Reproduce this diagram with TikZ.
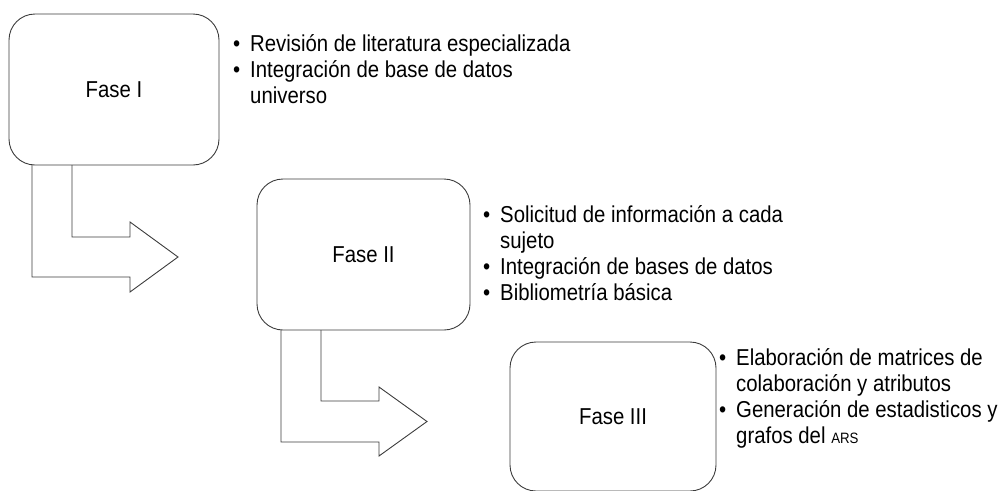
\documentclass[tikz,border=0pt]{standalone}
\usepackage{fontspec}
\setmainfont{Liberation Sans}[FakeStretch=0.885]
\definecolor{linegray}{HTML}{3C3C3C}
\newcommand{\bul}{\makebox[17pt][l]{\textbullet}}
\newcommand{\ind}{\hspace*{17pt}}
\tikzset{
  fase/.style={draw=linegray,line width=0.9pt,rounded corners=26pt,minimum width=210pt,minimum height=151pt,font=\fontsize{23}{26}\selectfont},
  lista/.style={anchor=base west,align=left,inner sep=0pt,font=\fontsize{23}{26}\selectfont},
  flecha/.style={draw=linegray,line width=0.9pt,line join=miter}
}
\begin{document}
\begin{tikzpicture}[x=1pt,y=-1pt]
\useasboundingbox (0,0) rectangle (1008,490);
% fases
\node[fase] (f1) at (114,89.5) {Fase I};
\node[fase,minimum width=213pt] (f2) at (363.5,254.5) {Fase II};
\node[fase,minimum width=206pt,minimum height=149pt] (f3) at (613,416.5) {Fase III};
% flechas
\draw[flecha] (32,165) -- (32,277) -- (130,277) -- (130,292) -- (178,257) -- (130,222) -- (130,237) -- (72,237) -- (72,165);
\draw[flecha] (281,330) -- (281,442) -- (379,442) -- (379,456) -- (427,421.5) -- (379,387) -- (379,401) -- (321,401) -- (321,330);
% actividades (anchor on last line)
\node[lista] (a1) at (233,103) {\bul Revisión de literatura especializada\\\bul Integración de base de datos\\\ind universo};
\node[lista] (a2) at (483,300) {\bul Solicitud de información a cada\\\ind sujeto\\\bul Integración de bases de datos\\\bul Bibliometría básica};
\node[lista] (a3) at (719,443) {\bul Elaboración de matrices de\\\ind colaboración y atributos\\\bul Generación de estadisticos y\\\ind grafos del {\fontsize{15}{15}\selectfont ARS}};
\end{tikzpicture}
\end{document}
